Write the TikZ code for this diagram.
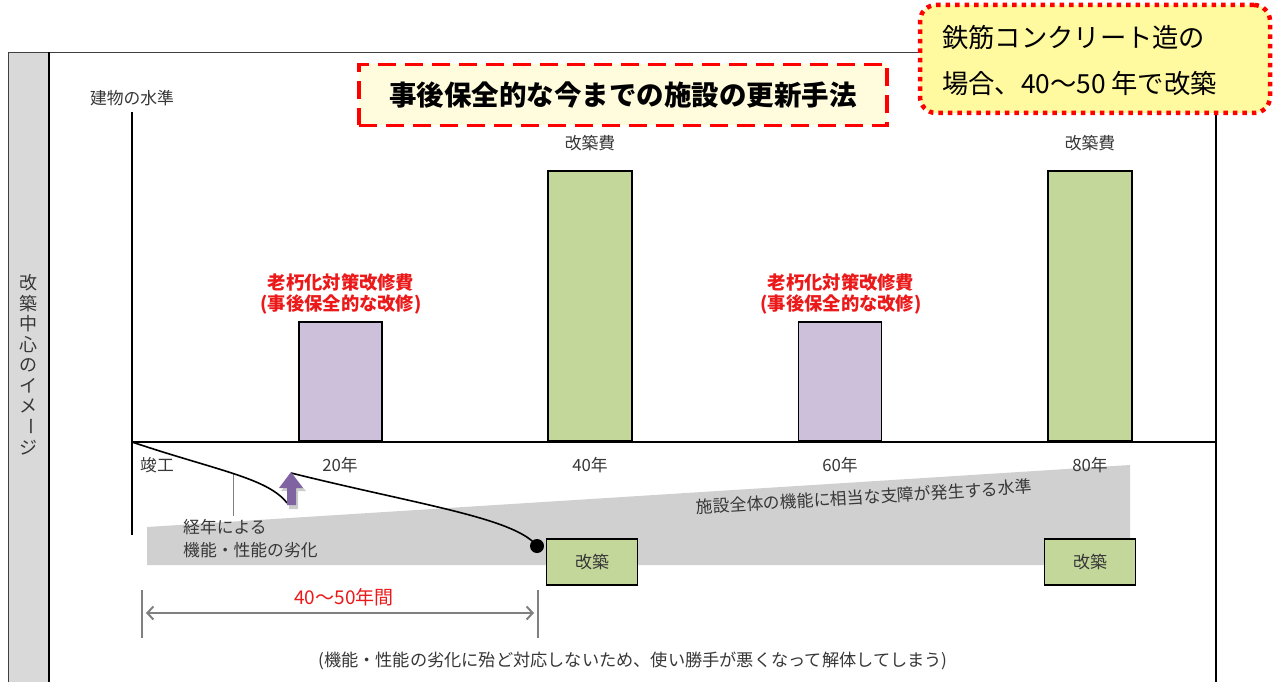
\documentclass[tikz,border=0pt]{standalone}
\usepackage{fontspec}
\setmainfont{Noto Sans CJK JP}
\usetikzlibrary{arrows.meta}
\definecolor{stripgray}{RGB}{217,217,217}
\definecolor{bandgray}{RGB}{208,208,208}
\definecolor{barpurple}{RGB}{204,192,218}
\definecolor{bargreen}{RGB}{196,215,155}
\definecolor{arrowpurple}{RGB}{128,100,162}
\definecolor{titlefill}{RGB}{255,252,222}
\definecolor{notefill}{RGB}{255,249,160}
\definecolor{txtgray}{RGB}{55,55,55}
\definecolor{redtxt}{RGB}{235,25,25}
\definecolor{dimgray}{RGB}{128,128,128}
\tikzset{
  lbl/.style={text=txtgray, font=\fontsize{16.8}{19}\selectfont, inner sep=0pt},
  redlbl/.style={text=redtxt, font=\fontsize{18.3}{21}\selectfont\bfseries, align=center, inner sep=0pt},
  purplebar/.style={draw=black, line width=1.8pt, fill=barpurple, minimum width=83pt, minimum height=119pt, anchor=south, inner sep=0pt},
  greenbar/.style={draw=black, line width=1.8pt, fill=bargreen, minimum width=84pt, minimum height=270pt, anchor=south, inner sep=0pt},
  greenbox/.style={draw=black, line width=1.8pt, fill=bargreen, minimum width=91pt, minimum height=46pt, inner sep=0pt, text=txtgray, font=\fontsize{17}{19}\selectfont},
  titlebox/.style={draw=red, line width=3.5pt, dash pattern=on 18pt off 9pt, fill=titlefill, minimum width=528pt, minimum height=61pt, inner sep=0pt, font=\fontsize{27.5}{30}\selectfont\bfseries},
  notebox/.style={draw=red, line width=4.5pt, dash pattern=on 4.5pt off 5pt, fill=notefill, rounded corners=16pt, minimum width=350pt, minimum height=108pt, inner sep=0pt},
  notetxt/.style={font=\fontsize{26.3}{28}\selectfont, anchor=west, inner sep=0pt},
  vchar/.style={font=\fontsize{18}{20}\selectfont, text=txtgray, inner sep=0pt},
}
\begin{document}
\begin{tikzpicture}[x=1pt,y=-1pt]
\useasboundingbox (0,0) rectangle (1276,682);
\fill[white] (0,0) rectangle (1276,682);
% frame
\fill[stripgray] (8,52) rectangle (49,682);
\draw[line width=0.9pt, black!75] (8,682) -- (8,52) -- (1216,52);
\draw[line width=2pt] (49,52) -- (49,682);
\draw[line width=2pt] (1216,52) -- (1216,682);
% vertical side text
\foreach \c [count=\i from 0] in {改,築,中,心,の,イ,メ}
  \node[vchar] (v\i) at (28,{283+20.5*\i}) {\c};
\node[vchar, rotate=-90] (v7) at (28,426) {ー};
\node[vchar] (v8) at (28,448) {ジ};
% title and note
\node[titlebox] (title) at (623,95) {事後保全的な今までの施設の更新手法};
\node[notebox] (note) at (1095,59) {};
\node[notetxt] (note1) at (942,38) {鉄筋コンクリート造の};
\node[notetxt] (note2) at (942,83) {場合、40〜50 年で改築};
% axes
\node[lbl] (ylab) at (132,98) {建物の水準};
\coordinate (O) at (132,442);
\coordinate (ytop) at (132,112);
\coordinate (ybot) at (132,535);
\coordinate (xend) at (1216,442);
% band
\fill[bandgray] (147,527) -- (1130,465) -- (1130,565) -- (147,565) -- cycle;
\node[lbl, rotate=3.6] (bandtxt) at (864,497) {施設全体の機能に相当な支障が発生する水準};
% bars
\node[purplebar] (b20) at (340.5,442) {};
\node[greenbar] (b40) at (590,442) {};
\node[purplebar] (b60) at (840,442) {};
\node[greenbar] (b80) at (1090,442) {};
\draw[line width=1.6pt] (ytop) -- (ybot);
\draw[line width=1.6pt] (O) -- (xend);
\node[lbl] (c40) at (590,143) {改築費};
\node[lbl] (c80) at (1090,143) {改築費};
\node[redlbl] (r20) at (341,294) {老朽化対策改修費\\(事後保全的な改修)};
\node[redlbl] (r60) at (841,294) {老朽化対策改修費\\(事後保全的な改修)};
% year labels
\node[lbl] (y0) at (157,465) {竣工};
\node[lbl] (y20) at (340,465) {20年};
\node[lbl] (y40) at (590,465) {40年};
\node[lbl] (y60) at (840,465) {60年};
\node[lbl] (y80) at (1090,465) {80年};
% degradation text
\coordinate (lead1) at (233,474);
\coordinate (lead2) at (233,516);
\draw[dimgray, line width=1pt] (lead1) -- (lead2);
\node[lbl, align=left, anchor=west, font=\fontsize{16.8}{23}\selectfont] (deg) at (183,539) {経年による\\機能・性能の劣化};
% curves
\coordinate (c1e) at (287,503);
\coordinate (c2s) at (291,473);
\node[circle, fill=black, inner sep=0pt, minimum size=14pt] (dot) at (537,546) {};
\draw[line width=1.6pt] (O) .. controls (215,470) and (268,478) .. (c1e);
\draw[line width=1.6pt] (c2s) .. controls (420,505) and (515,518) .. (dot.center);
% purple up arrow
\fill[black!20] (293,476) -- (306,491) -- (298,491) -- (298,509) -- (289,509) -- (289,491) -- (281,491) -- cycle;
\fill[arrowpurple] (291,472) -- (303,488) -- (296,488) -- (296,505) -- (287,505) -- (287,488) -- (279,488) -- cycle;
% rebuild boxes
\node[greenbox] (k40) at (592,562) {改築};
\node[greenbox] (k80) at (1090,562) {改築};
% span arrow
\coordinate (t1a) at (142,590);
\coordinate (t1b) at (142,638);
\coordinate (t2a) at (538,590);
\coordinate (t2b) at (538,638);
\draw[dimgray, line width=1.3pt] (t1a) -- (t1b);
\draw[dimgray, line width=1.3pt] (t2a) -- (t2b);
\coordinate (s1) at (146,613);
\coordinate (s2) at (534,613);
\draw[dimgray, line width=2pt, {Straight Barb[length=6pt,width=13pt]}-{Straight Barb[length=6pt,width=13pt]}] (s1) -- (s2);
\node[text=redtxt, font=\fontsize{19}{20}\selectfont, inner sep=0pt] (span) at (344,597) {40〜50年間};
\node[lbl, font=\fontsize{17.2}{19}\selectfont] (foot) at (633,661) {(機能・性能の劣化に殆ど対応しないため、使い勝手が悪くなって解体してしまう)};
\end{tikzpicture}
\end{document}
